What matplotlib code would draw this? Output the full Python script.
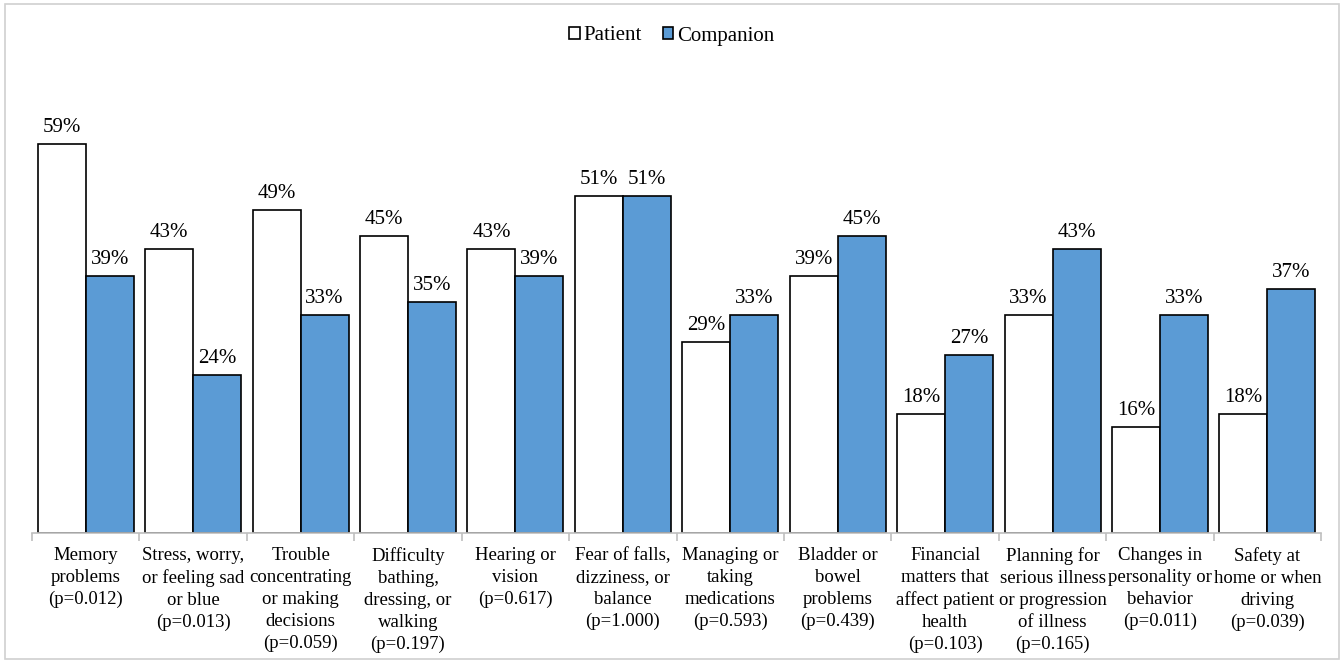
import matplotlib
matplotlib.use("Agg")
import matplotlib.pyplot as plt
import numpy as np
from matplotlib.patches import Rectangle

categories = [
    "Memory\nproblems\n(p=0.012)",
    "Stress, worry,\nor feeling sad\nor blue\n(p=0.013)",
    "Trouble\nconcentrating\nor making\ndecisions\n(p=0.059)",
    "Difficulty\nbathing,\ndressing, or\nwalking\n(p=0.197)",
    "Hearing or\nvision\n(p=0.617)",
    "Fear of falls,\ndizziness, or\nbalance\n(p=1.000)",
    "Managing or\ntaking\nmedications\n(p=0.593)",
    "Bladder or\nbowel\nproblems\n(p=0.439)",
    "Financial\nmatters that\naffect patient\nhealth\n(p=0.103)",
    "Planning for\nserious illness\nor progression\nof illness\n(p=0.165)",
    "Changes in\npersonality or\nbehavior\n(p=0.011)",
    "Safety at\nhome or when\ndriving\n(p=0.039)",
]
patient = [59, 43, 49, 45, 43, 51, 29, 39, 18, 33, 16, 18]
companion = [39, 24, 33, 35, 39, 51, 33, 45, 27, 43, 33, 37]

plt.rcParams['font.family'] = ['Liberation Serif', 'DejaVu Serif']
fs = 13.5
fs_lab = 15

fig = plt.figure(figsize=(13.44, 6.63), dpi=100)
fig.patches.append(Rectangle((0.004, 0.006), 0.992, 0.988, transform=fig.transFigure,
                             fill=False, edgecolor='#d0d0d0', linewidth=1.2))
ax = fig.add_axes([0.0238, 0.196, 0.9592, 0.697])

x = np.arange(len(categories))
w = 0.447
b1 = ax.bar(x - w/2, patient, w, color='white', edgecolor='black', linewidth=1.2, label='Patient')
b2 = ax.bar(x + w/2, companion, w, color='#5B9BD5', edgecolor='black', linewidth=1.2, label='Companion')

for bars, vals in ((b1, patient), (b2, companion)):
    for r, v in zip(bars, vals):
        ax.annotate(f"{v}%", (r.get_x() + r.get_width()/2, r.get_height()),
                    xytext=(0, 5), textcoords='offset points', ha='center', va='bottom',
                    fontsize=fs_lab)

ax.set_xlim(-0.5, len(categories) - 0.5)
ax.set_ylim(0, 70)
ax.set_yticks([])
for s in ('top', 'right', 'left'):
    ax.spines[s].set_visible(False)
ax.spines['bottom'].set_color('#bfbfbf')
ax.spines['bottom'].set_linewidth(1.2)

ax.set_xticks(x)
ax.set_xticklabels(categories, fontsize=fs, linespacing=1.38)
ax.tick_params(axis='x', length=0, pad=10)
ax.set_xticks(np.arange(-0.5, len(categories)), minor=True)
ax.tick_params(axis='x', which='minor', length=6, color='#bfbfbf', width=1.2)

leg = fig.legend(handles=[b1, b2], labels=['Patient', 'Companion'], loc='center',
                 bbox_to_anchor=(0.5, 1 - 36/663), ncol=2, frameon=False, fontsize=fs_lab,
                 handlelength=0.5, handleheight=0.5, handletextpad=0.2, columnspacing=1.0)

fig.savefig("out.png", dpi=100)
